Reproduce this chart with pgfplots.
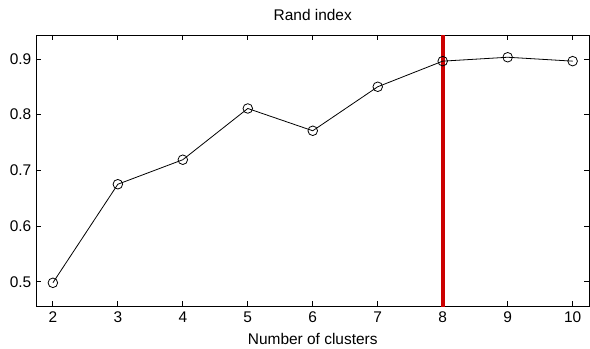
\documentclass[border=0pt]{standalone}
\usepackage{pgfplots}
\pgfplotsset{compat=1.18}
\usepackage{fontspec}
\setmainfont{Liberation Sans}
\begin{document}
\begin{tikzpicture}[x=0.75pt,y=0.75pt]
\begin{axis}[
  scale only axis,
  width=415.5pt, height=204pt,
  xmin=1.74, xmax=10.26,
  ymin=0.455, ymax=0.943,
  xtick={2,...,10},
  ytick={0.5,0.6,0.7,0.8,0.9},
  yticklabel style={/pgf/number format/fixed,/pgf/number format/precision=1},
  /pgf/number format/assume math mode=true,
  tick align=inside,
  tick pos=both,
  major tick length=4pt,
  tick style={black, line width=0.6pt},
  axis line style={line width=0.7pt},
  ticklabel style={font=\fontsize{11.6}{13}\selectfont},
  title={Rand index},
  title style={font=\fontsize{11.6}{13}\selectfont, inner sep=0pt, at={(axis description cs:0.5,1)}, anchor=base, yshift=5pt},
  xlabel={Number of clusters},
  xlabel style={font=\fontsize{11.6}{13}\selectfont, inner sep=0pt, at={(axis description cs:0.5,0)}, anchor=base, yshift=-28pt},
  clip=false,
]
\addplot[color=red!80!black, line width=3pt] coordinates {(8,0.455) (8,0.943)};
\addplot[black, line width=0.6pt, mark=o, mark size=3.6pt, mark options={line width=0.6pt}] coordinates {
(2,0.498) (3,0.675) (4,0.719) (5,0.811) (6,0.771) (7,0.850) (8,0.896) (9,0.903) (10,0.896)};
\end{axis}
\path (-36,-42) rectangle (554,307);
\end{tikzpicture}
\end{document}
